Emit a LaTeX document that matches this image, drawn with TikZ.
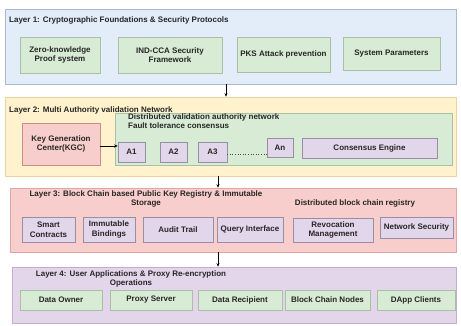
\documentclass[tikz,border=0pt]{standalone}
\usepackage{fontspec}
\setmainfont{Liberation Sans}
\usetikzlibrary{arrows.meta}
\definecolor{l1fill}{HTML}{E3ECF9}
\definecolor{l1draw}{HTML}{A9B9D0}
\definecolor{l2fill}{HTML}{FFF2CC}
\definecolor{l2draw}{HTML}{E8D49E}
\definecolor{l3fill}{HTML}{F8CECC}
\definecolor{l3draw}{HTML}{DDA9A7}
\definecolor{l4fill}{HTML}{E4D6EA}
\definecolor{l4draw}{HTML}{C3AECF}
\definecolor{gfill}{HTML}{D8EBD5}
\definecolor{gdraw}{HTML}{A9BFA6}
\definecolor{pfill}{HTML}{E2D6EA}
\definecolor{pdraw}{HTML}{9A8DA6}
\definecolor{rfill}{HTML}{F8CECC}
\definecolor{rdraw}{HTML}{C98E8C}
\tikzset{
  txt/.style={font=\fontsize{8}{9.5}\selectfont\bfseries, text=black!85},
  layer/.style={draw=#1draw, fill=#1fill, line width=0.6pt, inner sep=0},
  gbox/.style={txt, draw=gdraw, fill=gfill, line width=0.5pt, align=center, inner sep=1pt},
  pbox/.style={txt, draw=pdraw, fill=pfill, line width=0.5pt, align=center, inner sep=1pt},
  rbox/.style={txt, draw=rdraw, fill=rfill, line width=0.5pt, align=center, inner sep=1pt},
  arr/.style={-{Stealth[length=3.5pt,width=3pt]}, line width=0.5pt, black},
}
\begin{document}
\begin{tikzpicture}[x=1pt,y=-1pt]
\useasboundingbox[fill=white] (0,0) rectangle (461,325);
% Layer 1
\node[layer=l1, minimum width=451, minimum height=75] (l1) at (230.5,46.5) {};
\node[txt, anchor=west, inner sep=0] (t1) at (9,20) {Layer 1: Cryptographic Foundations \& Security Protocols};
\node[gbox, minimum width=80, minimum height=36] (zk) at (60,55) {Zero-knowledge\\Proof system};
\node[gbox, minimum width=104, minimum height=36] (ind) at (170,55) {IND-CCA Security\\Framework};
\node[gbox, minimum width=93, minimum height=35] (pks) at (283.5,54.5) {PKS Attack prevention};
\node[gbox, minimum width=97, minimum height=33] (sys) at (391.5,53.5) {System Parameters};
% Layer 2
\node[layer=l2, minimum width=451, minimum height=79] (l2) at (230.5,136.5) {};
\node[txt, anchor=west, inner sep=0] (t2) at (9,110) {Layer 2: Multi Authority validation Network};
\node[rbox, minimum width=78, minimum height=42] (kgc) at (61,144) {Key Generation\\Center(KGC)};
\node[gbox, minimum width=337, minimum height=52] (dva) at (283.5,139) {};
\node[txt, anchor=north west, align=left, inner sep=0, font=\fontsize{8}{9}\selectfont\bfseries] (dvat) at (128,113.5) {Distributed validation authority network\\Fault tolerance consensus};
\node[pbox, minimum width=27, minimum height=20] (a1) at (131.5,152) {A1};
\node[pbox, minimum width=27, minimum height=20] (a2) at (173.5,152) {A2};
\node[pbox, minimum width=29, minimum height=20] (a3) at (212.5,152) {A3};
\node[pbox, minimum width=26, minimum height=19] (an) at (280,147.5) {An};
\node[pbox, minimum width=135, minimum height=20] (ce) at (369.5,148) {Consensus Engine};
\draw[dotted, line width=0.6pt, black!70] (a3.east) ++(0,2) coordinate (d0) -- (d0 -| an.west);
\draw[arr] (kgc.east) ++(0,2) coordinate (k0) -- (k0 -| a1.west);
% Layer 3
\node[layer=l3, minimum width=446, minimum height=64] (l3) at (233,220) {};
\node[txt, align=center, inner sep=0, font=\fontsize{8}{8.5}\selectfont\bfseries] (t3) at (146,199) {Layer 3: Block Chain based Public Key Registry \& Immutable\\Storage};
\node[txt, inner sep=0] (dbr) at (355,203) {Distributed block chain registry};
\node[pbox, minimum width=53, minimum height=25] (sc) at (48.5,229.5) {Smart\\Contracts};
\node[pbox, minimum width=52, minimum height=25] (ib) at (109,229.5) {Immutable\\Bindings};
\node[pbox, minimum width=70, minimum height=25] (at) at (178,229.5) {Audit Trail};
\node[pbox, minimum width=66, minimum height=25] (qi) at (250,229.5) {Query Interface};
\node[pbox, minimum width=80, minimum height=24] (rm) at (333,230) {Revocation\\Management};
\node[pbox, minimum width=73, minimum height=21] (ns) at (416.5,227.5) {Network Security};
% Layer 4
\node[layer=l4, minimum width=444, minimum height=56] (l4) at (234,295) {};
\node[txt, align=center, inner sep=0, font=\fontsize{8}{9}\selectfont\bfseries] (t4) at (131,279) {Layer 4: User Applications \& Proxy Re-encryption\\Operations};
\node[gbox, minimum width=82, minimum height=20] (do) at (61,300) {Data Owner};
\node[gbox, minimum width=82, minimum height=20] (ps) at (151,300) {Proxy Server};
\node[gbox, minimum width=84, minimum height=20] (dr) at (240,300) {Data Recipient};
\node[gbox, minimum width=85, minimum height=20] (bcn) at (327.5,300) {Block Chain Nodes};
\node[gbox, minimum width=78, minimum height=20] (dc) at (416,300) {DApp Clients};
% layer connectors
\coordinate (c12) at (226,0);
\coordinate (c23) at (218,0);
\draw[arr] (l1.south -| c12) -- (l2.north -| c12);
\draw[arr] (l2.south -| c23) -- (l3.north -| c23);
\draw[arr] (l3.south -| c23) -- (l4.north -| c23);
\end{tikzpicture}
\end{document}
